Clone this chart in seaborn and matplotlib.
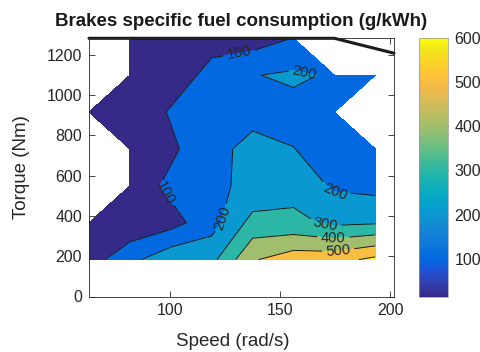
import numpy as np
import matplotlib
matplotlib.use("Agg")
import matplotlib.pyplot as plt
import seaborn as sns
from matplotlib.colors import LinearSegmentedColormap, Normalize
from matplotlib.cm import ScalarMappable

# ---------------- data ----------------
speed = [63.0, 81.6, 100.2, 118.8, 137.4, 156.0, 174.6, 193.2]   # rad/s
torque = [183, 366, 549, 732, 915, 1098, 1281]                     # Nm
nan = np.nan
bsfc_t183 = [53.4, 172.8, 270.0, 272.0, 490.0, 558.0, 563.0, 625.0]
bsfc_t366 = [40.0, 21.0, 63.2, 160.0, 335.0, 326.0, 280.0, 290.0]
bsfc_t549 = [nan, 28.0, 126.6, 184.0, 218.0, 263.0, 185.0, 168.0]
bsfc_t732 = [nan, 30.0, 79.0, 179.0, 220.0, 202.0, 160.0, 150.0]
bsfc_t915 = [60.0, 14.0, 110.8, 150.0, 179.0, 170.0, 165.0, nan]
bsfc_t1098 = [nan, 30.0, 38.8, 134.4, 196.0, 215.0, 189.0, 170.0]
bsfc_t1281 = [nan, 40.0, 50.0, 61.0, 50.5, 103.0, nan, nan]
contour_levels = [100, 200, 300, 400, 500, 600]
cbar_ticks = [100, 200, 300, 400, 500, 600]
xticks = [100, 150, 200]
yticks = [0, 200, 400, 600, 800, 1000, 1200]
maxtq_speed = [63.0, 174.6, 201.7]
maxtq_torque = [1281, 1281, 1207]

# ---------------- style ----------------
sns.set_theme(style="ticks")
plt.rcParams["font.family"] = ["Liberation Sans", "DejaVu Sans"]
txt = "#262626"

parula_pts = [
    (0.2081, 0.1663, 0.5292), (0.2081, 0.2386, 0.6771), (0.1253, 0.3242, 0.8303),
    (0.0060, 0.4086, 0.8828), (0.0498, 0.4586, 0.8641), (0.0779, 0.5040, 0.8384),
    (0.0641, 0.5570, 0.8240), (0.0265, 0.6137, 0.8135), (0.0228, 0.6535, 0.7768),
    (0.0590, 0.6838, 0.7254), (0.1453, 0.7098, 0.6646), (0.2586, 0.7317, 0.5954),
    (0.3953, 0.7459, 0.5244), (0.5300, 0.7491, 0.4661), (0.6473, 0.7456, 0.4188),
    (0.7525, 0.7384, 0.3768), (0.8507, 0.7299, 0.3360), (0.9450, 0.7261, 0.2886),
    (0.9990, 0.7653, 0.2164), (0.9789, 0.8271, 0.1633), (0.9589, 0.8949, 0.1132),
    (0.9763, 0.9831, 0.0538)]
parula = LinearSegmentedColormap.from_list("parula", parula_pts, N=256)

Z = np.ma.masked_invalid(np.array([bsfc_t183, bsfc_t366, bsfc_t549, bsfc_t732,
                                   bsfc_t915, bsfc_t1098, bsfc_t1281]))
zmin = float(Z.min())
norm = Normalize(vmin=zmin, vmax=contour_levels[-1])
fill_levels = [0] + contour_levels + [1000]
fill_colors = [parula(norm(v)) for v in [zmin] + contour_levels]

fig = plt.figure(figsize=(4.81, 3.52), dpi=100)
ax = fig.add_axes([89 / 481, 1 - 296.5 / 352, (394 - 89) / 481, (296.5 - 38.3) / 352])
cax = fig.add_axes([419 / 481, 1 - 296.7 / 352, 28.7 / 481, (296.7 - 38.0) / 352])

ax.contourf(speed, torque, Z, levels=fill_levels, colors=fill_colors, corner_mask=True)
cs = ax.contour(speed, torque, Z, levels=contour_levels, colors="k", linewidths=0.7,
                corner_mask=True)
label_pos = [(131.3, 1208), (96.5, 507), (160.7, 1098), (124.5, 388), (174.8, 522),
             (170.2, 343), (173.9, 268), (176.6, 209)]
ax.clabel(cs, contour_levels, inline=True, fontsize=10.5, fmt="%d",
          manual=label_pos, colors=txt)

sns.lineplot(x=maxtq_speed, y=maxtq_torque, color="k", linewidth=2.2, sort=False,
             ax=ax, legend=False)
ax.lines[-1].set_clip_on(False)

ax.set_xlim(63.0, 201.7)
ax.set_ylim(0, 1281)
ax.set_xticks(xticks)
ax.set_yticks(yticks)
ax.tick_params(direction="in", top=True, right=True, length=4, width=0.6,
               labelsize=11.5, colors=txt, labelcolor=txt, pad=5)
for s in ax.spines.values():
    s.set_linewidth(0.6)
    s.set_color(txt)
ax.set_xlabel("Speed (rad/s)", fontsize=13.5, color=txt)
ax.set_ylabel("Torque (Nm)", fontsize=13.5, color=txt)
ax.xaxis.set_label_coords((232.5 - 89) / 305, -0.14)
ax.yaxis.set_label_coords(-0.195, 0.5)

fig.text(241.5 / 481, 1 - 26 / 352, "Brakes specific fuel consumption (g/kWh)",
         ha="center", va="baseline", fontsize=13.5, fontweight="bold", color="k")

sm = ScalarMappable(norm=norm, cmap=parula)
cb = fig.colorbar(sm, cax=cax, ticks=cbar_ticks)
cb.outline.set_linewidth(0.5)
cb.outline.set_edgecolor("0.6")
cax.tick_params(direction="in", length=3, width=0.6, labelsize=11.5, colors=txt,
                labelcolor=txt, pad=5)

fig.savefig("out.png", dpi=100)
